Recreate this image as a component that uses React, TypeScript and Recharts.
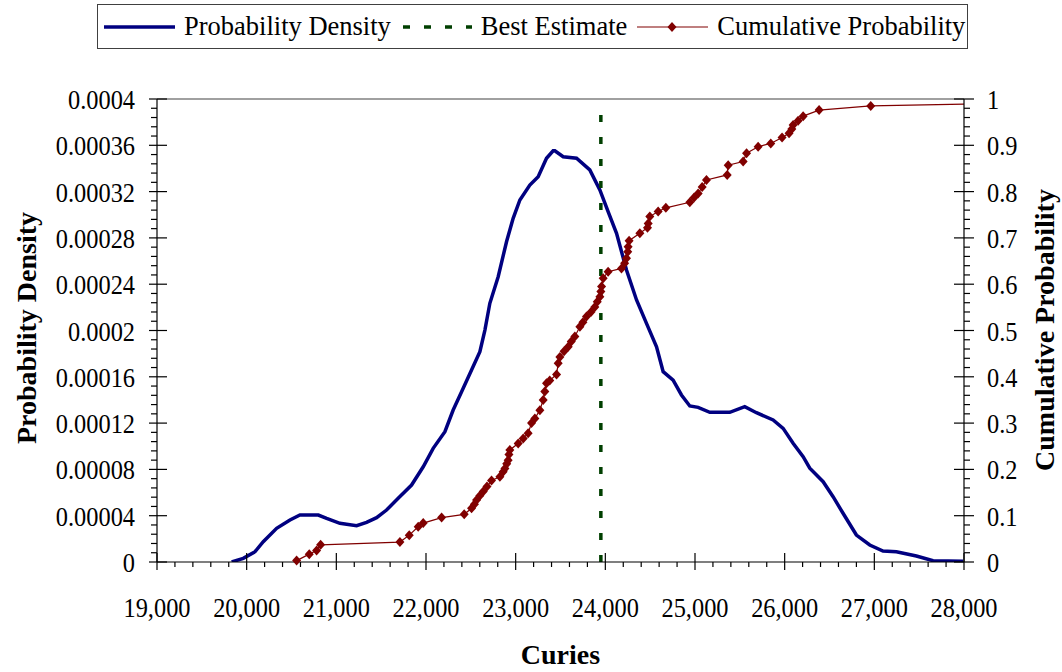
import React from 'react';
import { ComposedChart, Line, XAxis, YAxis, ReferenceLine, Legend } from 'recharts';

// probability density curve (Curies vs density)
const densityX = [
  19833, 19962, 20093, 20185, 20334, 20483, 20594, 20799, 20892, 21040, 21226, 21337, 21449, 21560,
  21690, 21839, 21969, 22080, 22211, 22303, 22397, 22508, 22601, 22657, 22712, 22805, 22898, 22972,
  23047, 23158, 23251, 23344, 23418, 23437, 23530, 23679, 23827, 23939, 24031, 24125, 24236, 24348,
  24459, 24571, 24645, 24756, 24849, 24942, 25035, 25165, 25388, 25555, 25685, 25871, 25983, 26094,
  26206, 26280, 26429, 26540, 26651, 26800, 26949, 27097, 27246, 27469, 27655, 27990,
];
const densityY = [
  0, 0.0000032, 0.0000089, 0.0000175, 0.0000291, 0.0000363, 0.0000406, 0.0000406, 0.0000377,
  0.0000334, 0.0000314, 0.0000343, 0.0000383, 0.0000449, 0.000055, 0.0000665, 0.0000823, 0.0000982,
  0.0001126, 0.0001313, 0.0001471, 0.0001659, 0.0001817, 0.0002004, 0.0002235, 0.0002465, 0.0002767,
  0.0002969, 0.0003128, 0.0003257, 0.0003329, 0.0003488, 0.0003553, 0.0003553, 0.0003501, 0.0003488,
  0.0003387, 0.0003214, 0.0003027, 0.000284, 0.0002523, 0.0002264, 0.0002062, 0.000186, 0.0001644,
  0.0001572, 0.0001443, 0.0001348, 0.0001336, 0.0001293, 0.0001293, 0.0001342, 0.000129, 0.0001227,
  0.0001155, 0.0001026, 0.000091, 0.000081, 0.0000694, 0.0000564, 0.0000421, 0.0000233, 0.0000147,
  0.0000095, 0.0000089, 0.0000052, 0.0000011, 0.0000006,
];

// cumulative probability points
const cumX = [
  20557, 20698, 20780, 20825, 21709, 21813, 21913, 21969, 22174, 22426, 22508, 22540, 22564, 22600,
  22638, 22680, 22731, 22824, 22860, 22880, 22900, 22916, 22925, 22935, 23028, 23084, 23139, 23177,
  23214, 23270, 23307, 23325, 23344, 23380, 23456, 23474, 23493, 23540, 23586, 23620, 23660, 23716,
  23750, 23790, 23840, 23883, 23910, 23939, 23950, 23958, 23976, 24031, 24180, 24215, 24236, 24250,
  24254, 24265, 24385, 24470, 24478, 24496, 24589, 24675, 24942, 24990, 25035, 25080, 25128, 25359,
  25370, 25537, 25575, 25704, 25845, 25971, 26049, 26080, 26094, 26150, 26206, 26384, 26960, 28000,
];
const cumY = [
  0.003, 0.017, 0.025, 0.037, 0.043, 0.058, 0.076, 0.084, 0.096, 0.103, 0.116, 0.125, 0.134, 0.143,
  0.152, 0.163, 0.176, 0.184, 0.195, 0.202, 0.212, 0.22, 0.232, 0.242, 0.256, 0.267, 0.278, 0.3,
  0.31, 0.328, 0.35, 0.368, 0.386, 0.392, 0.405, 0.429, 0.443, 0.455, 0.465, 0.476, 0.487, 0.508,
  0.518, 0.53, 0.54, 0.551, 0.562, 0.573, 0.584, 0.595, 0.613, 0.627, 0.634, 0.645, 0.656, 0.67,
  0.681, 0.694, 0.71, 0.722, 0.731, 0.746, 0.757, 0.765, 0.777, 0.787, 0.796, 0.81, 0.825, 0.836,
  0.857, 0.865, 0.883, 0.897, 0.904, 0.917, 0.926, 0.935, 0.944, 0.953, 0.963, 0.976, 0.985, 0.989,
];

// best estimate vertical line
const bestX = [23950, 23950];
const bestY = [0, 0.00039];

const xTickLabels = ['19,000', '20,000', '21,000', '22,000', '23,000', '24,000', '25,000', '26,000', '27,000', '28,000'];
const leftTickLabels = ['0', '0.00004', '0.00008', '0.00012', '0.00016', '0.0002', '0.00024', '0.00028', '0.00032', '0.00036', '0.0004'];
const rightTickLabels = ['0', '0.1', '0.2', '0.3', '0.4', '0.5', '0.6', '0.7', '0.8', '0.9', '1'];

const densityData = densityX.map((x, i) => ({ x, y: densityY[i] }));
const cumData = cumX.map((x, i) => ({ x, y: cumY[i] }));
const bestData = bestX.map((x, i) => ({ x, y: bestY[i] }));

// 5 minor steps per labelled step
const xTicks = Array.from({ length: 46 }, (_, i) => 19000 + i * 200);
const leftTicks = Array.from({ length: 51 }, (_, i) => i * 0.000008);
const rightTicks = Array.from({ length: 51 }, (_, i) => i * 0.02);

const FONT = '"Liberation Serif", "Times New Roman", serif';
const NAVY = '#000080';
const MAROON = '#800000';
const GREEN = '#003f00';

const tickText = (x: number, y: number, label: string, anchor: string) => (
  <text
    transform={`translate(${x},${y}) scale(0.87,1)`}
    textAnchor={anchor}
    fontSize={28}
    fontFamily={FONT}
    fill="#000"
  >
    {label}
  </text>
);

const XTick = (props: any) => {
  const { x, y, index } = props;
  const major = index % 5 === 0;
  return (
    <g>
      <line x1={x} x2={x} y1={major ? y - 9 : y} y2={major ? y + 8 : y + 5} stroke="#000" strokeWidth={1.2} />
      {major && tickText(x, y + 55, xTickLabels[index / 5], 'middle')}
    </g>
  );
};

const LeftTick = (props: any) => {
  const { x, y, index } = props;
  const major = index % 5 === 0;
  return (
    <g>
      <line x1={major ? x - 8 : x - 6} x2={major ? x + 10 : x} y1={y} y2={y} stroke="#000" strokeWidth={1.2} />
      {major && tickText(x - 22, y + 10, leftTickLabels[index / 5], 'end')}
    </g>
  );
};

const RightTick = (props: any) => {
  const { x, y, index } = props;
  const major = index % 5 === 0;
  return (
    <g>
      <line x1={major ? x - 10 : x} x2={major ? x + 10 : x + 6} y1={y} y2={y} stroke="#000" strokeWidth={1.2} />
      {major && tickText(x + 23, y + 10, rightTickLabels[index / 5], 'start')}
    </g>
  );
};

const Diamond = (props: any) => {
  const { cx, cy, index } = props;
  if (index === cumData.length - 1) return <g key={`d-${index}`} />;
  return (
    <polygon
      key={`d-${index}`}
      points={`${cx},${cy - 5} ${cx + 4.5},${cy} ${cx},${cy + 5} ${cx - 4.5},${cy}`}
      fill={MAROON}
    />
  );
};

const legendItems = [
  { name: 'Probability Density', kind: 'solid' },
  { name: 'Best Estimate', kind: 'dash' },
  { name: 'Cumulative Probability', kind: 'marker' },
];

const renderLegend = () => (
  <div
    style={{
      boxSizing: 'border-box',
      width: 871,
      height: 45,
      border: '1.5px solid #404040',
      display: 'flex',
      alignItems: 'center',
      paddingLeft: 6,
      fontFamily: FONT,
      fontSize: 26.5,
      color: '#000',
      background: '#fff',
      whiteSpace: 'nowrap',
      overflow: 'hidden',
    }}
  >
    {legendItems.map((it) => (
      <div key={it.name} style={{ display: 'flex', alignItems: 'center', marginRight: 10, flexShrink: 0 }}>
        <svg width={71} height={20} style={{ marginRight: 9, flexShrink: 0 }}>
          {it.kind === 'solid' && <line x1={0} x2={72} y1={10} y2={10} stroke={NAVY} strokeWidth={3.5} />}
          {it.kind === 'dash' && (
            <line x1={2} x2={71} y1={10} y2={10} stroke={GREEN} strokeWidth={3.5} strokeDasharray="7 14" />
          )}
          {it.kind === 'marker' && (
            <g>
              <line x1={0} x2={71} y1={10} y2={10} stroke={MAROON} strokeWidth={1.2} />
              <polygon points="35,5 39.5,10 35,15 30.5,10" fill={MAROON} />
            </g>
          )}
        </svg>
        <span style={{ lineHeight: 1, whiteSpace: 'nowrap' }}>{it.name}</span>
      </div>
    ))}
  </div>
);

export default function App() {
  return (
    <div style={{ position: 'absolute', left: 0, top: 0, width: 1062, height: 672, background: '#fff' }}>
      <ComposedChart width={1062} height={672} margin={{ top: 99, right: 0, bottom: 0, left: 0 }}>
        <XAxis
          dataKey="x"
          type="number"
          domain={[19000, 28000]}
          ticks={xTicks}
          interval={0}
          tickSize={0}
          tickMargin={0}
          tickLine={false}
          tick={<XTick />}
          axisLine={{ stroke: '#000', strokeWidth: 1.2 }}
          height={110}
          allowDataOverflow
          label={{
            content: () => (
              <text x={560.5} y={664} textAnchor="middle" fontSize={28} fontWeight="bold" fontFamily={FONT}>
                Curies
              </text>
            ),
          }}
        />
        <YAxis
          yAxisId="left"
          orientation="left"
          domain={[0, 0.0004]}
          ticks={leftTicks}
          interval={0}
          tickSize={0}
          tickMargin={0}
          tickLine={false}
          tick={<LeftTick />}
          axisLine={{ stroke: '#000', strokeWidth: 1.2 }}
          width={157}
          allowDataOverflow
          label={{
            content: () => (
              <text
                transform="translate(36,328) rotate(-90)"
                textAnchor="middle"
                fontSize={28}
                fontWeight="bold"
                fontFamily={FONT}
              >
                Probability Density
              </text>
            ),
          }}
        />
        <YAxis
          yAxisId="right"
          orientation="right"
          domain={[0, 1]}
          ticks={rightTicks}
          interval={0}
          tickSize={0}
          tickMargin={0}
          tickLine={false}
          tick={<RightTick />}
          axisLine={{ stroke: '#000', strokeWidth: 1.2 }}
          width={98}
          label={{
            content: () => (
              <text
                transform="translate(1054,330) rotate(-90)"
                textAnchor="middle"
                fontSize={28}
                fontWeight="bold"
                fontFamily={FONT}
              >
                Cumulative Probability
              </text>
            ),
          }}
        />
        <ReferenceLine yAxisId="left" y={0.0004} stroke="#808080" strokeWidth={1.5} />
        <Line
          yAxisId="left"
          data={densityData}
          dataKey="y"
          type="linear"
          stroke={NAVY}
          strokeWidth={3.5}
          dot={false}
          isAnimationActive={false}
        />
        <Line
          yAxisId="left"
          data={bestData}
          dataKey="y"
          type="linear"
          stroke={GREEN}
          strokeWidth={3.5}
          strokeDasharray="7 15"
          dot={false}
          isAnimationActive={false}
        />
        <Line
          yAxisId="right"
          data={cumData}
          dataKey="y"
          type="linear"
          stroke={MAROON}
          strokeWidth={1.2}
          dot={<Diamond />}
          isAnimationActive={false}
        />
        <Legend
          layout="horizontal"
          verticalAlign="middle"
          align="center"
          content={renderLegend}
          wrapperStyle={{ top: 4, left: 97, width: 871, height: 45 }}
        />
      </ComposedChart>
    </div>
  );
}
